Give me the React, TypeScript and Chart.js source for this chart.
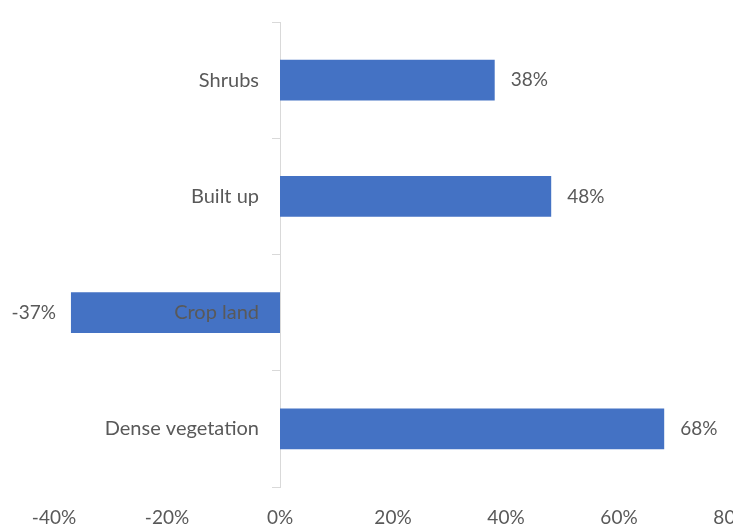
import { useEffect, useRef } from "react";
import { Chart, registerables } from "chart.js";

Chart.register(...registerables);

const categories = ["Shrubs", "Built up", "Crop land", "Dense vegetation"];
const changePct = [38, 48, -37, 68];
const xTickValues = [-40, -20, 0, 20, 40, 60, 80];

const FONT = "Lato, 'Open Sans', sans-serif";
const TEXT = "#595959";
const BAR = "#4472C4";

// Category labels beside the zero axis + value labels at bar ends
const labelsPlugin = {
  id: "labelsPlugin",
  afterDatasetsDraw(chart: any) {
    const ctx = chart.ctx;
    const xs = chart.scales.x;
    const ys = chart.scales.y;
    const zeroX = xs.getPixelForValue(0);
    ctx.save();
    ctx.textBaseline = "middle";
    ctx.fillStyle = TEXT;
    // category labels
    ctx.font = `20px ${FONT}`;
    ctx.textAlign = "right";
    categories.forEach((c, i) => {
      ctx.fillText(c, zeroX - 21, ys.getPixelForValue(i));
    });
    // value labels
    ctx.font = `19px ${FONT}`;
    const meta = chart.getDatasetMeta(0);
    meta.data.forEach((bar: any, i: number) => {
      const v = changePct[i];
      const txt = `${v}%`;
      if (v >= 0) {
        ctx.textAlign = "left";
        ctx.fillText(txt, bar.x + 16, bar.y);
      } else {
        ctx.textAlign = "right";
        ctx.fillText(txt, bar.x - 15, bar.y);
      }
    });
    ctx.restore();
  },
};

export default function App() {
  const ref = useRef<HTMLCanvasElement | null>(null);
  useEffect(() => {
    if (!ref.current) return;
    const chart = new Chart(ref.current, {
      type: "bar",
      data: {
        labels: categories,
        datasets: [
          {
            data: changePct,
            backgroundColor: BAR,
            borderWidth: 0,
            categoryPercentage: 1,
            barPercentage: 0.35,
          },
        ],
      },
      options: {
        indexAxis: "y",
        responsive: false,
        animation: false,
        layout: { padding: { left: 54, right: 28, top: 22, bottom: 0 } },
        plugins: { legend: { display: false }, tooltip: { enabled: false } },
        scales: {
          x: {
            min: xTickValues[0],
            max: xTickValues[xTickValues.length - 1],
            grid: { display: false, drawTicks: false },
            border: { display: false },
            afterFit: (s: any) => {
              s.height = 39;
              s.paddingLeft = 0;
              s.paddingRight = 0;
            },
            ticks: {
              stepSize: xTickValues[1] - xTickValues[0],
              padding: 19,
              color: TEXT,
              font: { family: FONT, size: 19 },
              callback: (v: any) => `${v}%`,
              maxRotation: 0,
            },
          },
          y: {
            position: { x: 0 } as any,
            afterFit: (s: any) => {
              s.width = 0;
            },
            grid: {
              drawOnChartArea: false,
              offset: true,
              tickLength: 8,
              color: "#d9d9d9",
            },
            border: { display: true, color: "#d9d9d9" },
            ticks: { display: false },
          },
        },
      },
      plugins: [labelsPlugin],
    });
    return () => chart.destroy();
  }, []);
  return (
    <div
      style={{
        position: "fixed",
        left: 0,
        top: 0,
        width: 733,
        height: 526,
        overflow: "hidden",
        background: "#fff",
      }}
    >
      <canvas ref={ref} width={760} height={526} style={{ display: "block" }} />
    </div>
  );
}
